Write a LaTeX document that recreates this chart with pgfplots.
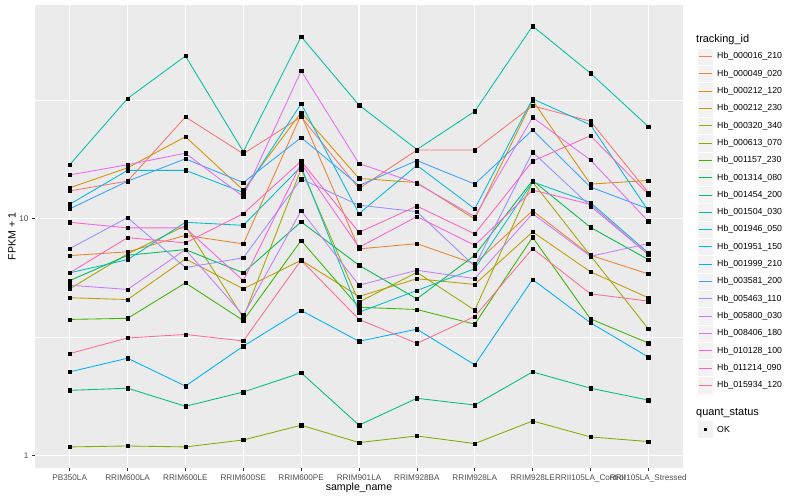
\documentclass[border=0pt]{standalone}
\usepackage{fontspec}
\setmainfont{Liberation Sans}
\setsansfont{Liberation Sans}
\usepackage{pgfplots}
\pgfplotsset{compat=1.18}
\usepackage{pgfplotstable}

\definecolor{panel}{HTML}{EBEBEB}
\definecolor{keybg}{HTML}{F2F2F2}
\definecolor{grey30}{HTML}{4D4D4D}
\definecolor{grey20}{HTML}{333333}
\definecolor{c1}{HTML}{F8766D}
\definecolor{c2}{HTML}{EA8331}
\definecolor{c3}{HTML}{D89000}
\definecolor{c4}{HTML}{C09B00}
\definecolor{c5}{HTML}{A3A500}
\definecolor{c6}{HTML}{7CAE00}
\definecolor{c7}{HTML}{39B600}
\definecolor{c8}{HTML}{00BB4E}
\definecolor{c9}{HTML}{00BF7D}
\definecolor{c10}{HTML}{00C1A3}
\definecolor{c11}{HTML}{00BFC4}
\definecolor{c12}{HTML}{00BAE0}
\definecolor{c13}{HTML}{00B0F6}
\definecolor{c14}{HTML}{35A2FF}
\definecolor{c15}{HTML}{9590FF}
\definecolor{c16}{HTML}{C77CFF}
\definecolor{c17}{HTML}{E76BF3}
\definecolor{c18}{HTML}{FA62DB}
\definecolor{c19}{HTML}{FF62BC}
\definecolor{c20}{HTML}{FF6C91}

% FPKM + 1, one row per sample, one column per tracking_id
\pgfplotstableread{
x  s1   s2   s3   s4   s5   s6    s7   s8   s9   s10  s11  s12  s13  s14  s15  s16  s17  s18  s19  s20
0  13.1 6.98 13.5 4.63 5.05 1.084 3.75 5.47 1.88 16.9 5.90 11.5 2.25 11.0 7.47 5.23 15.3 9.65 5.90 2.69
1  14.4 7.24 16.4 4.55 7.10 1.094 3.79 7.00 1.92 32.2 6.71 16.0 2.57 14.4 10.1 5.02 16.9 9.14 8.31 3.13
2  26.9 8.50 22.2 6.76 9.34 1.084 5.35 7.40 1.61 48.7 9.65 16.0 1.96 17.9 6.21 7.40 18.9 9.14 7.90 3.24
3  18.8 7.82 13.2 5.05 3.81 1.160 3.71 5.90 1.85 19.2 9.37 12.9 2.89 14.2 6.83 3.90 12.4 5.47 10.5 3.04
4  26.9 27.5 28.1 6.67 16.2 1.339 8.08 9.69 2.23 58.8 16.6 30.6 4.09 22.0 14.7 10.8 42.1 17.1 17.5 6.67
5  13.4 7.45 14.8 4.69 4.44 1.131 4.22 6.35 1.34 30.2 4.02 10.5 3.03 13.8 11.4 5.23 17.1 7.56 8.75 3.75
6  19.5 7.84 14.2 5.57 5.93 1.206 4.13 4.58 1.74 19.6 4.97 16.8 3.41 17.6 10.7 6.05 14.1 10.2 11.3 2.97
7  19.5 6.44 9.97 5.27 4.10 1.120 3.58 7.00 1.63 28.4 6.14 11.0 2.41 14.0 6.29 5.58 10.2 7.72 8.62 3.86
8  30.0 10.8 31.6 8.79 14.3 1.395 8.34 14.5 2.25 65.2 14.3 32.1 5.53 23.7 19.1 10.5 26.8 13.2 17.5 7.47
9  25.8 7.00 14.0 5.96 6.98 1.195 3.77 9.19 1.92 41.2 11.7 24.9 3.63 13.6 11.3 6.93 17.7 11.5 22.4 4.81
10 12.9 5.84 14.5 4.63 3.42 1.142 2.98 6.71 1.71 24.5 7.17 10.8 2.60 11.0 7.05 7.84 9.74 7.05 12.7 4.48
}\data

\begin{document}
\begin{tikzpicture}[x=1bp,y=1bp]
\path[use as bounding box, fill=white] (0,0) rectangle (800,500);
\begin{axis}[
    at={(35bp,32bp)}, anchor=south west,
    scale only axis, width=648bp, height=463bp,
    ymode=log, ymin=0.883, ymax=80,
    xmin=-0.6, xmax=10.6,
    axis background/.style={fill=panel},
    axis line style={draw=none},
    xtick={0,...,10},
    xticklabels={PB350LA,RRIM600LA,RRIM600LE,RRIM600SE,RRIM600PE,RRIM901LA,RRIM928BA,RRIM928LA,RRIM928LE,RRII105LA\_Control,RRII105LA\_Stressed},
    ytick={1,10}, yticklabels={1,10},
    minor ytick={3.1623,31.623},
    xmajorgrids, ymajorgrids, yminorgrids,
    major grid style={white, line width=1.1bp},
    minor grid style={white, line width=0.55bp},
    tick align=outside, major tick length=3bp, minor tick length=0pt,
    tick style={grey20, line width=0.5bp},
    xtick pos=bottom, ytick pos=left,
    ticklabel style={font=\fontsize{8.2}{9}\selectfont, text=grey30},
    clip=false,
]
\pgfplotsinvokeforeach{1,...,20}{
  \addplot[c#1, line width=0.85bp, no marks] table[x=x, y=s#1]{\data};
}
\pgfplotsinvokeforeach{1,...,20}{
  \addplot[only marks, mark=square*, mark size=1.7bp, black] table[x=x, y=s#1]{\data};
}
\end{axis}

% axis titles
\node[font=\fontsize{10.6}{12}\selectfont] at (359,12) {sample\_name};
\node[font=\fontsize{10.6}{12}\selectfont, rotate=90] at (12,263.5) {FPKM + 1};

% legend: tracking_id
\node[anchor=west, font=\fontsize{11}{12}\selectfont, inner sep=0pt] at (696,460) {tracking\_id};
\foreach \k/\name in {1/Hb\_000016\_210, 2/Hb\_000049\_020, 3/Hb\_000212\_120, 4/Hb\_000212\_230,
  5/Hb\_000320\_340, 6/Hb\_000613\_070, 7/Hb\_001157\_230, 8/Hb\_001314\_080, 9/Hb\_001454\_200,
  10/Hb\_001504\_030, 11/Hb\_001946\_050, 12/Hb\_001951\_150, 13/Hb\_001999\_210, 14/Hb\_003581\_200,
  15/Hb\_005463\_110, 16/Hb\_005800\_030, 17/Hb\_008406\_180, 18/Hb\_010128\_100, 19/Hb\_011214\_090,
  20/Hb\_015934\_120}{
  \pgfmathsetmacro\yy{443.3-17.3*(\k-1)}
  \fill[keybg, draw=white, line width=0.6bp] (697,\yy-8.65) rectangle (713.5,\yy+8.65);
  \draw[c\k, line width=1bp] (698.5,\yy) -- (712,\yy);
  \node[anchor=west, font=\fontsize{8.8}{10}\selectfont, inner sep=0pt] at (717,\yy) {\name};
}

% legend: quant_status
\node[anchor=west, font=\fontsize{11}{12}\selectfont, inner sep=0pt] at (696,87.3) {quant\_status};
\fill[keybg, draw=white, line width=0.6bp] (697,70.7-8.65) rectangle (713.5,70.7+8.65);
\fill[black] (703.6,69.1) rectangle (706.8,72.3);
\node[anchor=west, font=\fontsize{8.8}{10}\selectfont, inner sep=0pt] at (717,70.7) {OK};
\end{tikzpicture}
\end{document}
